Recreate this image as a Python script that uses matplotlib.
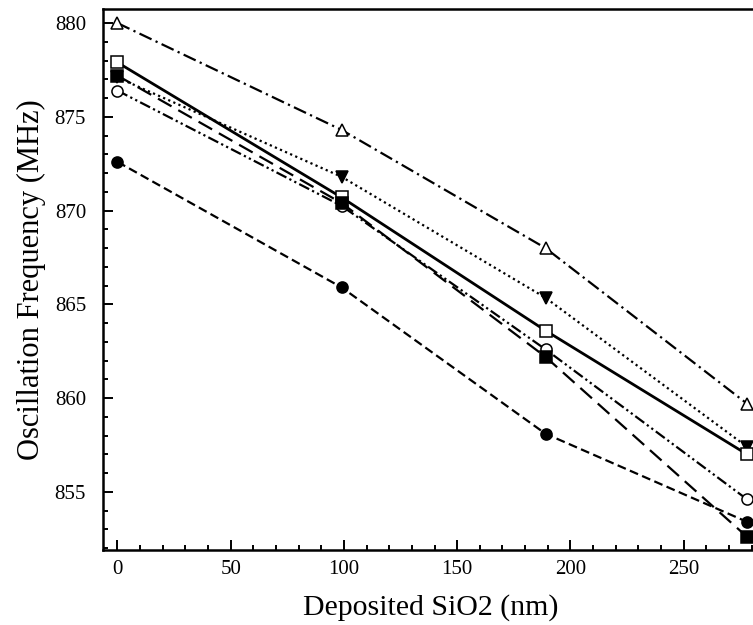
import matplotlib
matplotlib.use("Agg")
import matplotlib.pyplot as plt
from matplotlib.ticker import MultipleLocator

plt.rcParams["font.family"] = ["Liberation Serif", "DejaVu Serif"]

# Deposited SiO2 thickness (nm)
thickness = [0, 99, 189, 278]

# Oscillation frequency (MHz) for each sample
freq_open_tri = [880.0, 874.3, 868.0, 859.7]
freq_open_sq = [877.9, 870.7, 863.6, 857.0]
freq_fill_dtri = [877.1, 871.8, 865.35, 857.4]
freq_open_circ = [876.4, 870.25, 862.6, 854.6]
freq_fill_sq = [877.2, 870.4, 862.2, 852.6]
freq_fill_circ = [872.6, 865.9, 858.1, 853.4]

series = [
    (freq_open_tri, "^", "white", (0, (6, 2, 1, 2))),
    (freq_fill_dtri, "v", "black", (0, (1, 1.5))),
    (freq_open_sq, "s", "white", "-"),
    (freq_open_circ, "o", "white", (0, (5, 1.5, 1, 1.5, 1, 1.5))),
    (freq_fill_sq, "s", "black", (0, (7, 3.5))),
    (freq_fill_circ, "o", "black", (0, (4, 2))),
]

fig = plt.figure(figsize=(7.53, 6.25), dpi=100)
ax = fig.add_axes([0.1364, 0.12, 0.8708, 0.8656])

for vals, mk, face, ls in series:
    lw = 2.0 if ls == "-" else 1.6
    ax.plot(thickness, vals, linestyle=ls, color="black", linewidth=lw,
            marker=mk, markersize=8, markerfacecolor=face,
            markeredgecolor="black", markeredgewidth=1.1, zorder=3)

ax.set_xlim(-6.5, 283)
ax.set_ylim(851.9, 880.75)

ax.xaxis.set_major_locator(MultipleLocator(50))
ax.xaxis.set_minor_locator(MultipleLocator(10))
ax.yaxis.set_major_locator(MultipleLocator(5))
ax.yaxis.set_minor_locator(MultipleLocator(1))

ax.tick_params(which="both", direction="in", top=False, right=False,
               labelsize=15, width=1.4)
ax.tick_params(axis="x", which="major", length=7, pad=7)
ax.tick_params(axis="y", which="major", length=7, pad=12)
ax.tick_params(which="minor", length=3.5)

for sp in ax.spines.values():
    sp.set_linewidth(1.8)

ax.set_xlabel("Deposited SiO2 (nm)", fontsize=21.5, labelpad=11)
ax.set_ylabel("Oscillation Frequency (MHz)", fontsize=22, labelpad=6)

fig.savefig("out.png", dpi=100)
